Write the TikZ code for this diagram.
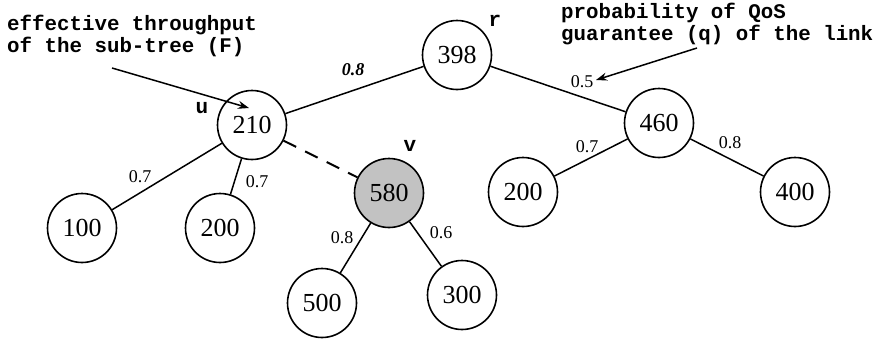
\documentclass[tikz,border=0pt]{standalone}
\usepackage{fontspec}
\setmainfont{Liberation Serif}
\setmonofont{Liberation Mono}
\usetikzlibrary{arrows.meta}
\begin{document}
\begin{tikzpicture}[x=1pt,y=-1pt,
  tnode/.style={circle,draw,line width=1.6pt,minimum size=69pt,inner sep=0pt,font=\fontsize{26}{26}\selectfont},
  shaded/.style={tnode,fill=black!24},
  edge/.style={line width=1.5pt},
  dashededge/.style={line width=2pt,dash pattern=on 14pt off 10pt},
  wlabel/.style={font=\fontsize{18}{18}\selectfont,inner sep=1pt},
  note/.style={font=\ttfamily\bfseries\fontsize{20.8}{22}\selectfont,align=left,inner sep=0pt,anchor=west},
  tag/.style={font=\ttfamily\bfseries\fontsize{21}{21}\selectfont,inner sep=0pt},
  pointer/.style={line width=1.5pt,-{Stealth[length=11pt,width=8pt]}}
]
\useasboundingbox (0,0) rectangle (878,338);
% nodes
\node[tnode] (r) at (457,55) {398};
\node[tnode] (u) at (252,125) {210};
\node[tnode] (a) at (82,228) {100};
\node[tnode] (b) at (220,228) {200};
\node[shaded] (v) at (389,193) {580};
\node[tnode] (c) at (322,303) {500};
\node[tnode] (d) at (462,295) {300};
\node[tnode] (e) at (659,123) {460};
\node[tnode] (f) at (523,192) {200};
\node[tnode] (g) at (795,192) {400};
% edges
\draw[edge] (r) -- (u);
\draw[edge] (r) -- (e);
\draw[edge] (u) -- (a);
\draw[edge] (u) -- (b);
\draw[dashededge] (u) -- (v);
\draw[edge] (v) -- (c);
\draw[edge] (v) -- (d);
\draw[edge] (e) -- (f);
\draw[edge] (e) -- (g);
% edge labels
\node[wlabel,font=\bfseries\itshape\fontsize{18}{18}\selectfont] (l1) at (353,70) {0.8};
\node[wlabel] (l2) at (582,82) {0.5};
\node[wlabel] (l3) at (587,147) {0.7};
\node[wlabel] (l4) at (730,143) {0.8};
\node[wlabel] (l5) at (140,177) {0.7};
\node[wlabel] (l6) at (257,182) {0.7};
\node[wlabel] (l7) at (342,238) {0.8};
\node[wlabel] (l8) at (441,233) {0.6};
% tags
\node[tag] (tr) at (495,21) {r};
\node[tag] (tu) at (202,108) {u};
\node[tag] (tv) at (410,146) {v};
% notes
\node[note] (n1) at (7,36) {effective throughput\\of the sub-tree (F)};
\node[note] (n2) at (561,24) {probability of QoS\\guarantee (q) of the link};
\coordinate (p1s) at (112,68);
\coordinate (p1e) at (249,108);
\coordinate (p2s) at (697,48);
\coordinate (p2e) at (596,80);
\draw[pointer] (p1s) -- (p1e);
\draw[pointer] (p2s) -- (p2e);
\end{tikzpicture}
\end{document}
